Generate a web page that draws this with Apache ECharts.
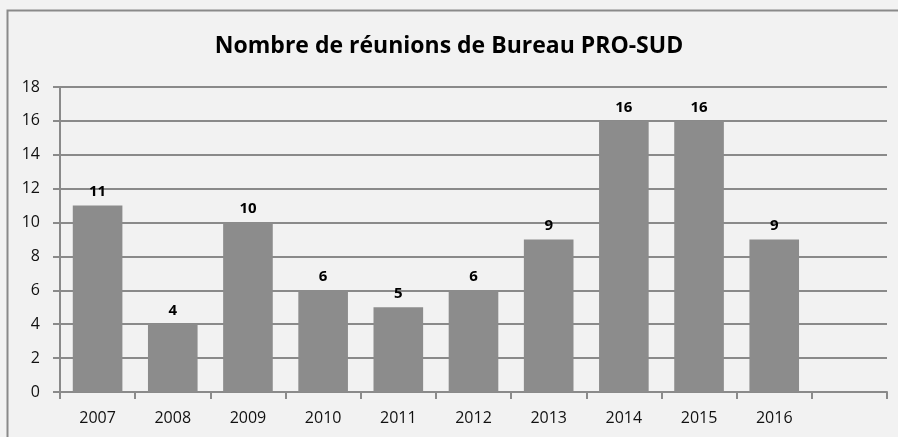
<!DOCTYPE html>
<html>
<head>
<meta charset="utf-8">
<script src="https://cdn.jsdelivr.net/npm/echarts@6/dist/echarts.min.js"></script>
<style>
  html, body { margin: 0; padding: 0; background: #f2f2f2; }
  #chart { width: 898px; height: 437px; }
</style>
</head>
<body>
<div id="chart"></div>
<script>
  // données
  let years = ['2007', '2008', '2009', '2010', '2011', '2012', '2013', '2014', '2015', '2016', '']
  let reunions = [11, 4, 10, 6, 5, 6, 9, 16, 16, 9, null]
  let yTicks = [0, 2, 4, 6, 8, 10, 12, 14, 16, 18]

  let font = "'Open Sans', 'Liberation Sans', sans-serif"
  let chart = echarts.init(document.getElementById('chart'), null, { renderer: 'canvas' })

  let option = {
    backgroundColor: '#f2f2f2',
    animation: false,
    title: {
      text: 'Nombre de réunions de Bureau PRO-SUD',
      left: 'center',
      top: 30,
      textStyle: { fontFamily: font, fontSize: 23, fontWeight: 'bold', color: '#000' }
    },
    graphic: [{
      type: 'rect',
      shape: { x: 7.5, y: 10.5, width: 900, height: 440 },
      style: { fill: 'none', stroke: '#8a8a8a', lineWidth: 2 },
      z: -1
    }],
    grid: { left: 60, right: 11, top: 87, bottom: 45 },
    xAxis: {
      type: 'category',
      data: years,
      boundaryGap: true,
      axisLine: { lineStyle: { color: '#8a8a8a', width: 2 } },
      axisTick: { show: true, length: 7, lineStyle: { color: '#8a8a8a', width: 2 } },
      axisLabel: { fontFamily: font, fontSize: 16, color: '#111', margin: 18 }
    },
    yAxis: {
      type: 'value',
      min: yTicks[0],
      max: yTicks[yTicks.length - 1],
      interval: 2,
      axisLine: { show: true, lineStyle: { color: '#8a8a8a', width: 2 } },
      axisTick: { show: true, length: 7, lineStyle: { color: '#8a8a8a', width: 2 } },
      splitLine: { lineStyle: { color: '#8a8a8a', width: 2 } },
      axisLabel: { fontFamily: font, fontSize: 16, color: '#111', margin: 20 }
    },
    series: [{
      type: 'bar',
      data: reunions,
      barWidth: '66%',
      itemStyle: { color: '#8c8c8c' },
      label: {
        show: true,
        position: 'top',
        distance: 6,
        fontFamily: font,
        fontSize: 15,
        fontWeight: 'bold',
        color: '#000'
      }
    }]
  }
  chart.setOption(option)
</script>
</body>
</html>
